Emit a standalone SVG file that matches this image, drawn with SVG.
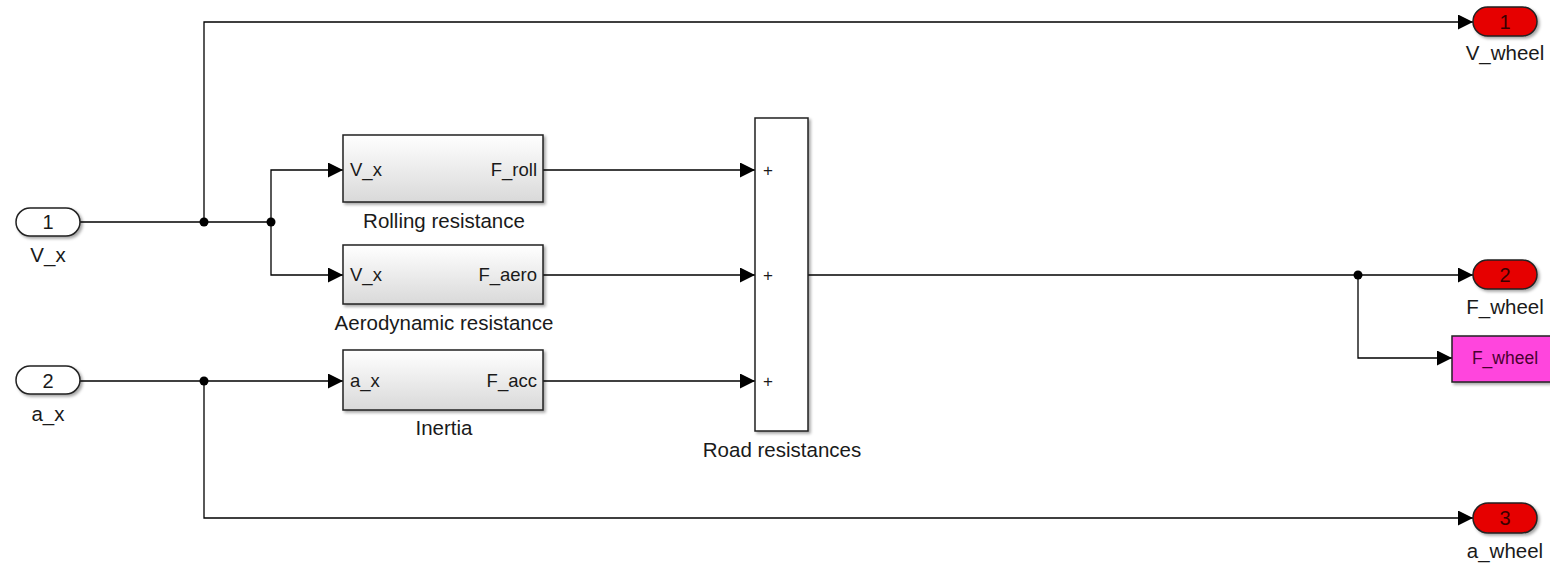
<svg xmlns="http://www.w3.org/2000/svg" width="1550" height="564" viewBox="0 0 1550 564">
<style>
text{font-family:"Liberation Sans",Arial,sans-serif;fill:#1a1a1a}
.lbl{font-size:20.5px;text-anchor:middle}
.port{font-size:18.5px}
.num{font-size:20px;text-anchor:middle}
.plus{font-size:17px;text-anchor:middle}
.ln{fill:none;stroke:#000;stroke-width:1.3}
.blk{fill:url(#grad);stroke:#222;stroke-width:1.5;filter:url(#sh)}
.inp{fill:#fff;stroke:#222;stroke-width:1.5;filter:url(#sh)}
.outp{fill:#e60000;stroke:#222;stroke-width:1.5;filter:url(#sh)}
.dot{fill:#000}
</style>
<defs>
<linearGradient id="grad" x1="0" y1="0" x2="0" y2="1">
<stop offset="0" stop-color="#ffffff"/>
<stop offset="1" stop-color="#d9d9d9"/>
</linearGradient>
<filter id="sh" x="-10%" y="-10%" width="130%" height="130%">
<feDropShadow dx="2" dy="2" stdDeviation="1.5" flood-color="#000" flood-opacity="0.35"/>
</filter>
<marker id="arr" markerUnits="userSpaceOnUse" markerWidth="15" markerHeight="15" refX="15" refY="7.5" orient="auto">
<path d="M0,0 L15,7.5 L0,15 z" fill="#000"/>
</marker>
</defs>
<rect width="1550" height="564" fill="#fff"/>

<g id="connectors">
<path class="ln" d="M80,222 H271"/>
<path class="ln" d="M204,222 V22 H1473" marker-end="url(#arr)"/>
<path class="ln" d="M271,222 V170 H343" marker-end="url(#arr)"/>
<path class="ln" d="M271,222 V275 H343" marker-end="url(#arr)"/>
<path class="ln" d="M543,170 H755" marker-end="url(#arr)"/>
<path class="ln" d="M543,275 H755" marker-end="url(#arr)"/>
<path class="ln" d="M543,381 H755" marker-end="url(#arr)"/>
<path class="ln" d="M80,381 H343" marker-end="url(#arr)"/>
<path class="ln" d="M204,381 V518 H1473" marker-end="url(#arr)"/>
<path class="ln" d="M808,275 H1473" marker-end="url(#arr)"/>
<path class="ln" d="M1358,275 V358 H1452" marker-end="url(#arr)"/>
<circle class="dot" cx="204" cy="222" r="4.5"/>
<circle class="dot" cx="271" cy="222" r="4.5"/>
<circle class="dot" cx="204" cy="381" r="4.5"/>
<circle class="dot" cx="1358" cy="275" r="4.5"/>
</g>

<g id="in1">
<rect class="inp" x="16" y="208" width="64" height="28" rx="14"/>
<text class="num" x="48" y="229">1</text>
<text class="lbl" x="48" y="262">V_x</text>
</g>
<g id="in2">
<rect class="inp" x="16" y="366" width="64" height="28" rx="14"/>
<text class="num" x="48" y="388">2</text>
<text class="lbl" x="48" y="421">a_x</text>
</g>

<g id="rolling">
<rect class="blk" x="343" y="135" width="200" height="67"/>
<text class="port" x="350" y="176">V_x</text>
<text class="port" x="537" y="176" text-anchor="end">F_roll</text>
<text class="lbl" x="444" y="228">Rolling resistance</text>
</g>
<g id="aero">
<rect class="blk" x="343" y="245" width="200" height="59"/>
<text class="port" x="350" y="281">V_x</text>
<text class="port" x="537" y="281" text-anchor="end">F_aero</text>
<text class="lbl" x="444" y="330">Aerodynamic resistance</text>
</g>
<g id="inertia">
<rect class="blk" x="343" y="350" width="200" height="60"/>
<text class="port" x="350" y="387">a_x</text>
<text class="port" x="537" y="387" text-anchor="end">F_acc</text>
<text class="lbl" x="444" y="435">Inertia</text>
</g>

<g id="sum">
<rect x="755" y="118" width="53" height="313" fill="#fff" stroke="#222" stroke-width="1.5" filter="url(#sh)"/>
<text class="plus" x="768" y="176">+</text>
<text class="plus" x="768" y="281">+</text>
<text class="plus" x="768" y="387">+</text>
<text class="lbl" x="782" y="457">Road resistances</text>
</g>

<g id="out1">
<rect class="outp" x="1473" y="7" width="64" height="29" rx="14.5"/>
<text class="num" x="1505" y="29" style="fill:#3a0000">1</text>
<text class="lbl" x="1505" y="60">V_wheel</text>
</g>
<g id="out2">
<rect class="outp" x="1473" y="260" width="64" height="29" rx="14.5"/>
<text class="num" x="1505" y="282" style="fill:#3a0000">2</text>
<text class="lbl" x="1505" y="314">F_wheel</text>
</g>
<g id="out3">
<rect class="outp" x="1473" y="503" width="64" height="30" rx="15"/>
<text class="num" x="1505" y="525" style="fill:#3a0000">3</text>
<text class="lbl" x="1505" y="558">a_wheel</text>
</g>

<g id="goto">
<rect x="1452" y="336" width="110" height="46" fill="#ff44dd" stroke="#222" stroke-width="1.5" filter="url(#sh)"/>
<text x="1505" y="364" font-size="17.5" text-anchor="middle" style="fill:#4a0030">F_wheel</text>
</g>
</svg>
